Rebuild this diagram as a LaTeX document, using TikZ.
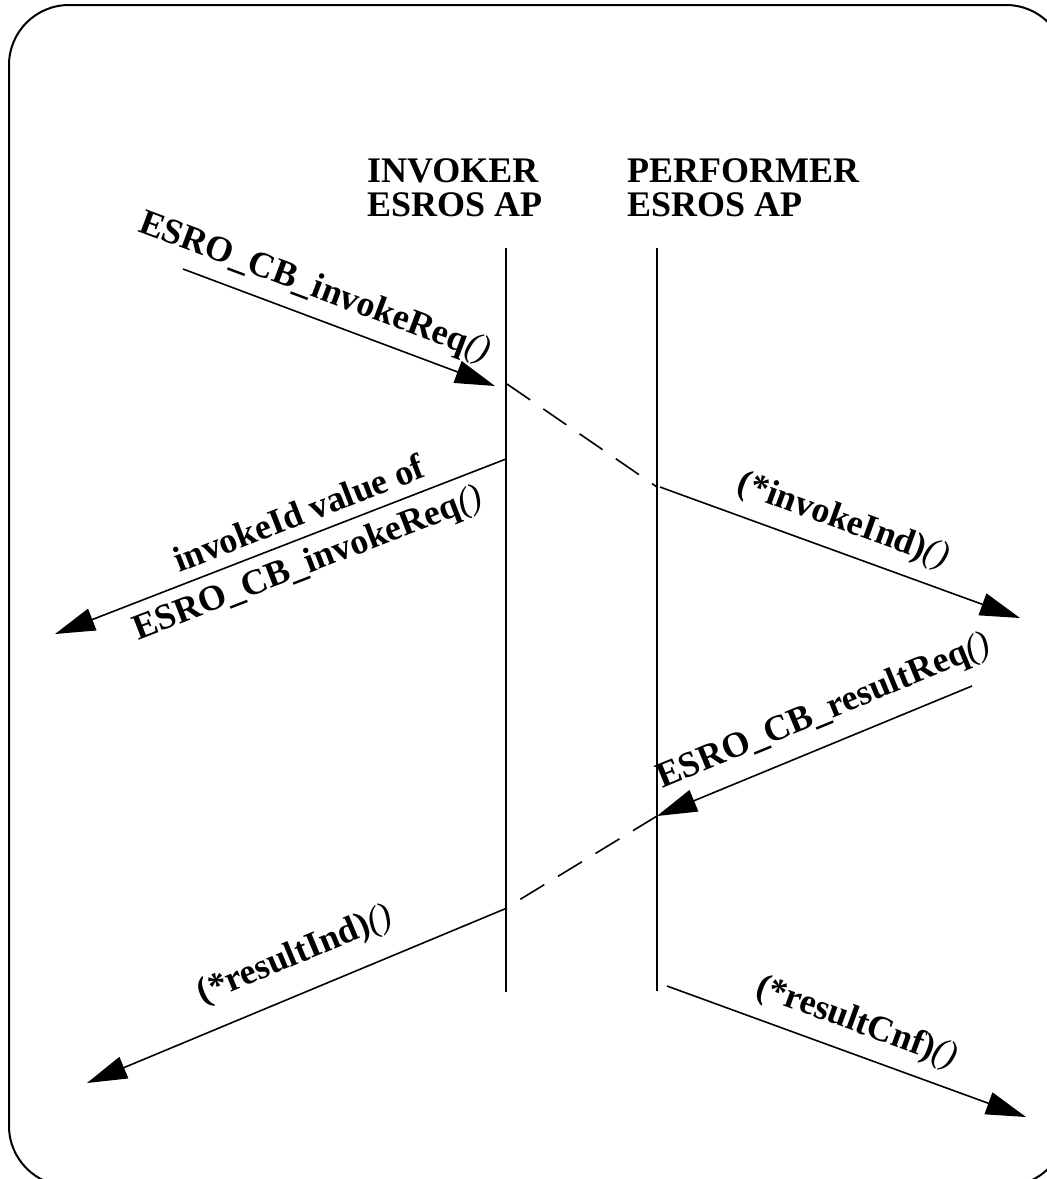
\documentclass[tikz,border=0pt]{standalone}
\usepackage{fontspec}
\setmainfont{Liberation Serif}
\usetikzlibrary{arrows.meta}
\begin{document}
\begin{tikzpicture}[x=1pt,y=-1pt,
  lbl/.style={font=\fontsize{36}{34}\selectfont\bfseries, inner xsep=0pt, inner ysep=0pt},
  msg/.style={line width=1.6pt, -{Triangle[length=40pt,width=23pt]}},
  lifeline/.style={line width=1.6pt},
  dashmsg/.style={line width=1.6pt, dash pattern=on 28pt off 16pt},
  border/.style={line width=2pt, rounded corners=60pt}]
\newcommand{\parens}{{\mdseries\itshape()}}
\useasboundingbox (0,0) rectangle (1047,1179);
\clip (0,0) rectangle (1047,1179);
\draw[border] (9,5) rectangle (1066,1186);

% headers
\node[lbl, anchor=north west, align=left] (inv) at (367,158) {INVOKER\\ESROS AP};
\node[lbl, anchor=north west, align=left] (perf) at (627,158) {PERFORMER\\ESROS AP};

% lifelines
\coordinate (Lt) at (506,248); \coordinate (Lb) at (506,992);
\coordinate (Rt) at (657,248); \coordinate (Rb) at (657,991);
\draw[lifeline] (Lt) -- (Lb);
\draw[lifeline] (Rt) -- (Rb);

% arrow 1
\coordinate (a1s) at (183,269); \coordinate (a1e) at (495,386);
\draw[msg] (a1s) -- node[lbl, sloped, pos=0.39, anchor=south, inner ysep=11pt] (t1) {ESRO\_CB\_invokeReq\parens} (a1e);

% dashed 1
\coordinate (d1s) at (507,384); \coordinate (d1e) at (657,487);
\draw[dashmsg] (d1s) -- (d1e);

% arrow 2
\coordinate (a2s) at (506,459); \coordinate (a2e) at (55,634);
\draw[msg] (a2s) -- node[lbl, sloped, pos=0.44, anchor=south, inner ysep=11pt] (t2a) {invokeId value of}
  node[lbl, sloped, pos=0.46, anchor=north, inner ysep=10pt] (t2b) {ESRO\_CB\_invokeReq\parens} (a2e);

% arrow 3
\coordinate (a3s) at (660,487); \coordinate (a3e) at (1020,618);
\draw[msg] (a3s) -- node[lbl, sloped, pos=0.48, anchor=south, inner ysep=13pt] (t3) {(*invokeInd)\parens} (a3e);

% arrow 4
\coordinate (a4s) at (972,686); \coordinate (a4e) at (657,816);
\draw[msg] (a4s) -- node[lbl, sloped, pos=0.43, anchor=south, inner ysep=15pt] (t4) {ESRO\_CB\_resultReq\parens} (a4e);

% dashed 2
\coordinate (d2s) at (657,816); \coordinate (d2e) at (506,908);
\draw[dashmsg] (d2s) -- (d2e);

% arrow 5
\coordinate (a5s) at (507,908); \coordinate (a5e) at (87,1083);
\draw[msg] (a5s) -- node[lbl, sloped, pos=0.47, anchor=south, inner ysep=20pt] (t5) {(*resultInd)\parens} (a5e);

% arrow 6
\coordinate (a6s) at (667,986); \coordinate (a6e) at (1026,1117);
\draw[msg] (a6s) -- node[lbl, sloped, pos=0.5, anchor=south, inner ysep=13pt] (t6) {(*resultCnf)\parens} (a6e);
\end{tikzpicture}
\end{document}
